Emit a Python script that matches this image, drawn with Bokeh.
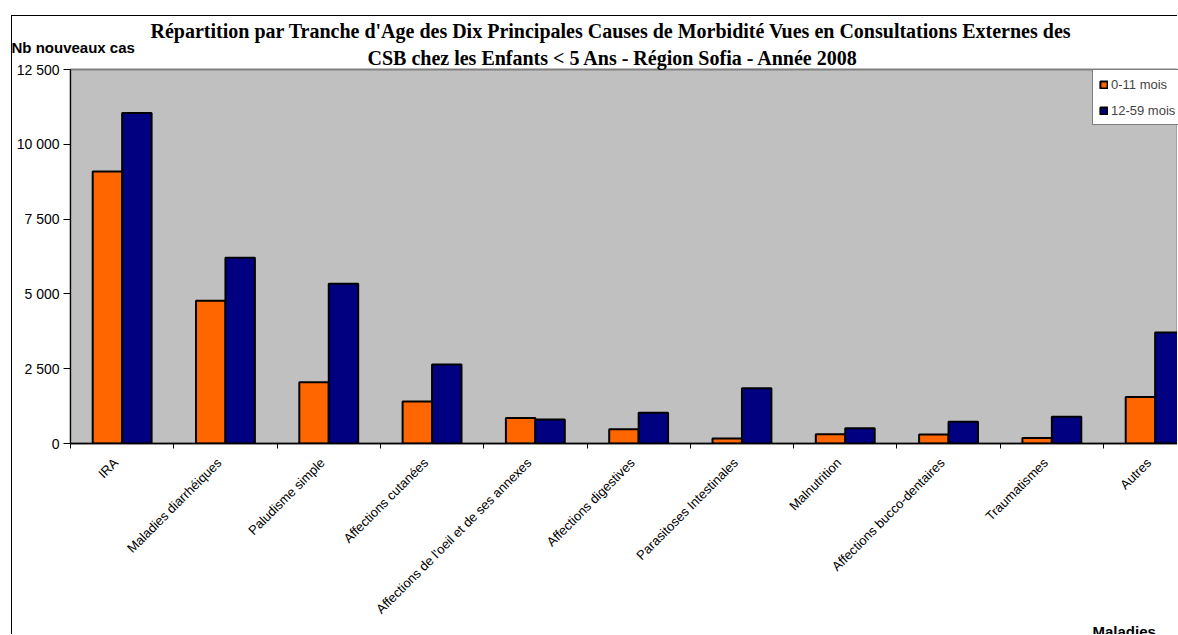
import math
from bokeh.plotting import figure
from bokeh.models import (Range1d, FixedTicker, Legend, LegendItem, Title,
                          ColumnDataSource, InlineStyleSheet)
from bokeh.embed import file_html
from bokeh.resources import INLINE

# ---------------- data ----------------
categories = ["IRA", "Maladies diarrhéiques", "Paludisme simple", "Affections cutanées",
              "Affections de l'oeil et de ses annexes", "Affections digestives",
              "Parasitoses Intestinales", "Malnutrition", "Affections bucco-dentaires",
              "Traumatismes", "Autres"]
series_names = ["0-11 mois", "12-59 mois"]
vals_0_11 = [9090, 4770, 2050, 1400, 850, 480, 170, 310, 300, 180, 1550]
vals_12_59 = [11050, 6210, 5340, 2640, 800, 1030, 1850, 510, 725, 890, 3710]
y_ticks = [0, 2500, 5000, 7500, 10000, 12500]
y_tick_labels = ["0", "2 500", "5 000", "7 500", "10 000", "12 500"]
title_lines = ["Répartition par Tranche d'Age des Dix Principales Causes de Morbidité Vues en Consultations Externes des",
               "CSB chez les Enfants < 5 Ans - Région Sofia - Année 2008"]
y_title = "Nb nouveaux cas"
x_title = "Maladies"

# ---------------- styles ----------------
ORANGE = "#FF6600"
NAVY = "#000080"
SANS = "Liberation Sans"
SERIF = "Liberation Serif"

n = len(categories)
centers = [i + 0.5 for i in range(n)]
bounds = [float(i) for i in range(n + 1)]
label_pos = [c - 0.06 for c in centers]
bar_w = 0.285

src = ColumnDataSource(dict(
    x0=[c - bar_w / 2 for c in centers],
    x1=[c + bar_w / 2 for c in centers],
    a=vals_0_11, b=vals_12_59,
))

PX_X = 1 / 103.3      # data units per horizontal pixel
FRAME_W = 1108

p = figure(width=1166, height=619,
           x_range=Range1d(0, FRAME_W * PX_X), y_range=Range1d(0, 12500),
           output_backend="svg", toolbar_location=None,
           min_border_left=58, min_border_top=53, min_border_bottom=192, min_border_right=0,
           background_fill_color="#C0C0C0", border_fill_color="white",
           outline_line_color="#808080", outline_line_width=2)
p.stylesheets = [InlineStyleSheet(css=":host { margin-left: 11px; margin-top: 15px; "
                                      "border-left: 1px solid #000; border-top: 1px solid #000; }")]

r0 = p.vbar(x="x0", top="a", width=bar_w, source=src, fill_color=ORANGE,
            line_color="black", line_width=2)
r1 = p.vbar(x="x1", top="b", width=bar_w, source=src, fill_color=NAVY,
            line_color="black", line_width=2)

p.xgrid.visible = False
p.ygrid.visible = False

# y axis
yax = p.yaxis[0]
yax.ticker = FixedTicker(ticks=y_ticks, minor_ticks=[])
yax.major_label_overrides = {t: l for t, l in zip(y_ticks, y_tick_labels)}
yax.major_label_text_font = SANS
yax.major_label_text_font_size = "14px"
yax.major_label_text_color = "black"
yax.major_tick_out = 7
yax.major_tick_in = 0
yax.major_label_standoff = 4
yax.axis_line_color = "black"
yax.major_tick_line_color = "black"

# x axis: tick marks at category boundaries, names near centres
xax = p.xaxis[0]
xax.ticker = FixedTicker(ticks=label_pos, minor_ticks=bounds)
xax.major_label_overrides = {c: name for c, name in zip(label_pos, categories)}
xax.major_label_orientation = math.pi / 4
xax.major_label_text_font = SANS
xax.major_label_text_font_size = "13px"
xax.major_label_text_color = "black"
xax.major_label_standoff = 12
xax.major_tick_out = 0
xax.major_tick_in = 0
xax.minor_tick_out = 5
xax.minor_tick_in = 0
xax.minor_tick_line_color = "black"
xax.axis_line_color = "black"
xax.axis_line_width = 1.5

# titles above: stacked outward from the plot (line 2, y title, line 1)
p.add_layout(Title(text=title_lines[1], align="left", offset=297, standoff=2,
                   text_font=SERIF, text_font_size="20px", text_font_style="bold",
                   text_color="black"), "above")
p.add_layout(Title(text=y_title, align="left", offset=-59, standoff=-24,
                   text_font=SANS, text_font_size="15px", text_font_style="bold",
                   text_color="black"), "above")
p.add_layout(Title(text=title_lines[0], align="left", offset=80, standoff=3,
                   text_font=SERIF, text_font_size="20px", text_font_style="bold",
                   text_color="black"), "above")
# x title below the category labels, at the right
p.add_layout(Title(text=x_title, align="left", offset=1022, standoff=-30,
                   text_font=SANS, text_font_size="15px", text_font_style="bold",
                   text_color="black"), "below")

legend = Legend(items=[LegendItem(label=series_names[0], renderers=[r0]),
                       LegendItem(label=series_names[1], renderers=[r1])],
                location=(1022, 318), orientation="vertical",
                glyph_width=9, glyph_height=9, label_standoff=3, label_height=16,
                spacing=10, padding=6, margin=0,
                label_text_font=SANS, label_text_font_size="13px",
                border_line_color="black", border_line_width=1,
                background_fill_color="white", background_fill_alpha=1)
p.add_layout(legend)

open("out.html", "w").write(file_html(p, INLINE))
